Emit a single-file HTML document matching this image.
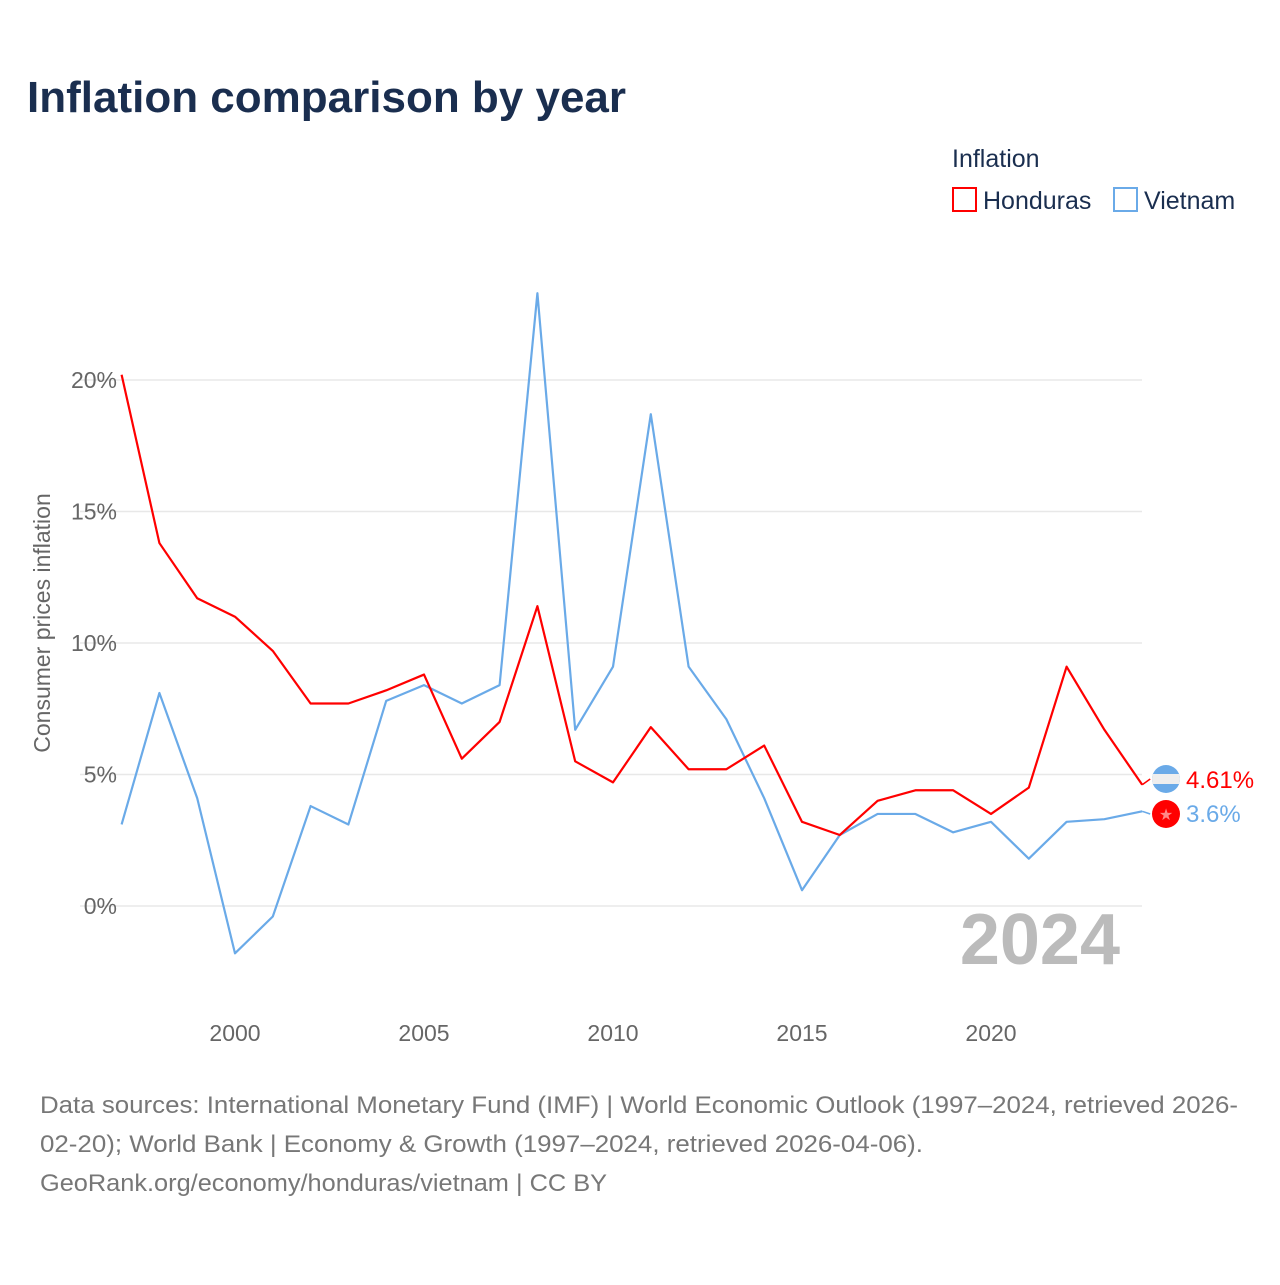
<!DOCTYPE html>
<html><head><meta charset="utf-8"><style>
body{margin:0;background:#fff;font-family:"Liberation Sans",sans-serif}
</style></head><body>
<svg width="1280" height="1280" xmlns="http://www.w3.org/2000/svg" style="font-family:'Liberation Sans',sans-serif">
<text x="27" y="112" font-size="44" font-weight="bold" fill="#1a2e4f">Inflation comparison by year</text>
<text x="952" y="167" font-size="25" fill="#1a2e4f">Inflation</text>
<g><rect x="953" y="188" width="23" height="23" fill="none" stroke="#f00" stroke-width="2"/><text x="983" y="209" font-size="25" fill="#1a2e4f">Honduras</text></g>
<g><rect x="1114" y="188" width="23" height="23" fill="none" stroke="#6aaae8" stroke-width="2"/><text x="1144" y="209" font-size="25" fill="#1a2e4f">Vietnam</text></g>
<text transform="translate(50,623) rotate(-90)" text-anchor="middle" font-size="23" fill="#666">Consumer prices inflation</text>
<g id="grid"></g><g id="yt"></g><g id="xt"></g>
<text x="1120" y="964" text-anchor="end" font-size="72" font-weight="bold" fill="#bbb">2024</text>
<g id="lines"></g>
<text x="40" y="1113" font-size="24" fill="#777" textLength="1198" lengthAdjust="spacingAndGlyphs">Data sources: International Monetary Fund (IMF) | World Economic Outlook (1997–2024, retrieved 2026-</text>
<text x="40" y="1152" font-size="24" fill="#777" textLength="883" lengthAdjust="spacingAndGlyphs">02-20); World Bank | Economy &amp; Growth (1997–2024, retrieved 2026-04-06).</text>
<text x="40" y="1191" font-size="24" fill="#777" textLength="567" lengthAdjust="spacingAndGlyphs">GeoRank.org/economy/honduras/vietnam | CC BY</text>
</svg>
<script>
const years=[1997,1998,1999,2000,2001,2002,2003,2004,2005,2006,2007,2008,2009,2010,2011,2012,2013,2014,2015,2016,2017,2018,2019,2020,2021,2022,2023,2024];
const honduras=[20.2,13.8,11.7,11.0,9.7,7.7,7.7,8.2,8.8,5.6,7.0,11.4,5.5,4.7,6.8,5.2,5.2,6.1,3.2,2.7,4.0,4.4,4.4,3.5,4.5,9.1,6.7,4.61];
const vietnam=[3.1,8.1,4.1,-1.8,-0.4,3.8,3.1,7.8,8.4,7.7,8.4,23.3,6.7,9.1,18.7,9.1,7.1,4.1,0.6,2.7,3.5,3.5,2.8,3.2,1.8,3.2,3.3,3.6];
const yTicks=[0,5,10,15,20];
const xTicks=[2000,2005,2010,2015,2020];
const NS='http://www.w3.org/2000/svg';
const X=v=>121.6+(v-1997)*37.8, Y=v=>906-v*26.3;
function mk(t,a,p){const e=document.createElementNS(NS,t);for(const k in a)e.setAttribute(k,a[k]);document.getElementById(p).appendChild(e);return e;}
yTicks.forEach(t=>{
 const l=mk('line',{x1:80,x2:1142,y1:Y(t),y2:Y(t),stroke:'#e8e8e8','stroke-width':1.5},'grid');
 
 
 const s=mk('text',{x:117,y:Y(t)+8,'text-anchor':'end','font-size':23,fill:'#666'},'yt');s.textContent=t+'%';
 
 
});
xTicks.forEach(t=>{
 const s=mk('text',{x:X(t),y:1041,'text-anchor':'middle','font-size':23,fill:'#666'},'xt');s.textContent=t;
 
 
});
function line(d,c,n){
 const p=mk('polyline',{points:d.map((v,i)=>X(years[i])+','+Y(v)).join(' '),fill:'none',stroke:c,'stroke-width':2.2,'stroke-linejoin':'round'},'lines');
 
 
}
line(vietnam,'#6aaae8','line-vietnam');
line(honduras,'#f00','line-honduras');
const lx=X(2024);
const hy=779, vy=814;
mk('line',{x1:lx,y1:Y(honduras[27]),x2:lx+8,y2:hy,stroke:'#f00','stroke-width':1.5},'lines');
mk('line',{x1:lx,y1:Y(vietnam[27]),x2:lx+8,y2:vy,stroke:'#6aaae8','stroke-width':1.5},'lines');
const f1=mk('g',{},'lines');


f1.innerHTML='<clipPath id="c1"><circle cx="1166" cy="'+hy+'" r="14"/></clipPath><g clip-path="url(#c1)"><rect x="1150" y="'+(hy-15)+'" width="32" height="30" fill="#6aaae8"/><rect x="1150" y="'+(hy-5)+'" width="32" height="10" fill="#eee"/></g>';
const f2=mk('g',{},'lines');


f2.innerHTML='<circle cx="1166" cy="'+vy+'" r="14" fill="#f00"/><text x="1166" y="'+(vy+6)+'" text-anchor="middle" font-size="16" fill="#f88">★</text>';
const t1=mk('text',{x:1186,y:hy+9,'font-size':24,fill:'#f00'},'lines');t1.textContent=honduras[27]+'%';


const t2=mk('text',{x:1186,y:vy+8,'font-size':24,fill:'#6aaae8'},'lines');t2.textContent=vietnam[27]+'%';


</script>
</body></html>
